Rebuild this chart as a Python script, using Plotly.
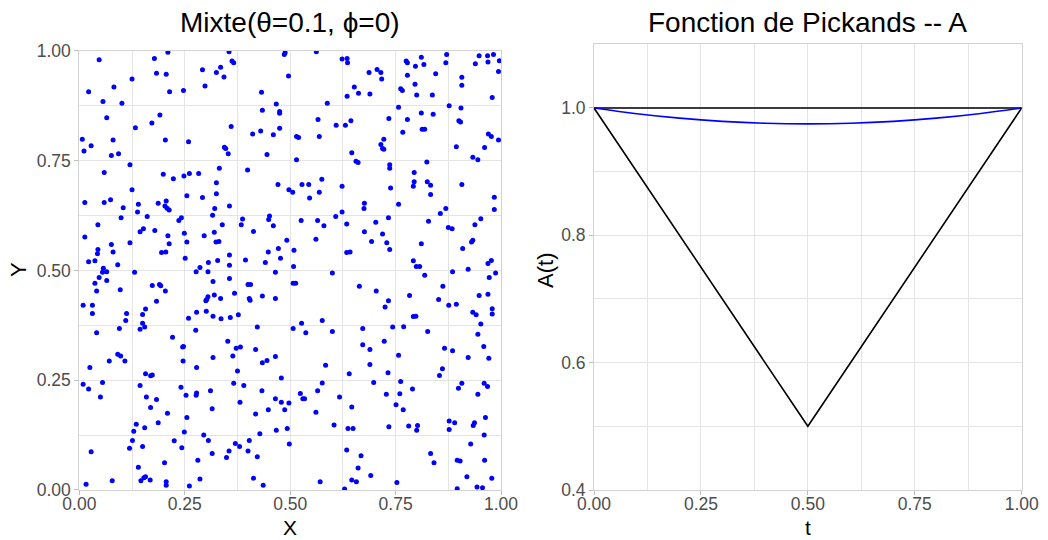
import plotly.graph_objects as go

# ---------------- data : simulated sample ----------------
# upper-left region
x_a = [0.047,0.178,0.210,0.183,0.206,0.125,0.022,0.082,0.056,0.101,0.214,0.247,0.292,0.298,0.065,0.133,0.172,0.191,0.007,0.011,
       0.028,0.080,0.076,0.093,0.204,0.259,0.120,0.059,0.199,0.223,0.248,0.261,0.283,0.125,0.013,0.059,0.074,0.104,0.140,0.138,
       0.187,0.206,0.203,0.208,0.213,0.255,0.292,0.321,0.316,0.099,0.161,0.236,0.242,0.044,0.013,0.144,0.152,0.179,0.210,0.249,
       0.296,0.320,0.120,0.076,0.044,0.043,0.080,0.213,0.255,0.195,0.205,0.251,0.022,0.037,0.091,0.286,0.306]
y_a = [0.980,0.983,0.997,0.949,0.947,0.936,0.907,0.918,0.885,0.881,0.907,0.910,0.957,0.920,0.848,0.825,0.836,0.854,0.799,0.772,
       0.784,0.797,0.762,0.766,0.797,0.793,0.741,0.723,0.719,0.709,0.715,0.721,0.721,0.684,0.655,0.655,0.661,0.643,0.651,0.633,
       0.653,0.658,0.647,0.642,0.638,0.670,0.666,0.641,0.626,0.620,0.623,0.614,0.620,0.604,0.576,0.588,0.595,0.591,0.579,0.585,
       0.579,0.587,0.563,0.559,0.548,0.538,0.542,0.561,0.565,0.541,0.542,0.528,0.520,0.522,0.513,0.507,0.518]
# upper-middle region
x_b = [0.355,0.335,0.325,0.343,0.362,0.366,0.486,0.488,0.496,0.562,0.623,0.635,0.636,0.432,0.467,0.434,0.475,0.475,0.588,0.652,
       0.635,0.360,0.411,0.430,0.460,0.475,0.515,0.520,0.566,0.569,0.609,0.631,0.644,0.344,0.347,0.353,0.445,0.515,0.646,0.656,
       0.332,0.399,0.325,0.325,0.471,0.497,0.506,0.528,0.544,0.546,0.569,0.575,0.623,0.356,0.339,0.324,0.331,0.387,0.384,0.413,
       0.451,0.449,0.460,0.526,0.492,0.565,0.580,0.608,0.623,0.634,0.561,0.509,0.472,0.448,0.477,0.634,0.642,0.356,0.328,0.356,
       0.394,0.441,0.508]
y_b = [0.998,0.963,0.951,0.941,0.977,0.973,0.992,0.996,0.943,0.998,0.982,0.983,0.973,0.906,0.879,0.865,0.862,0.858,0.881,0.918,
       0.897,0.828,0.811,0.818,0.809,0.824,0.805,0.803,0.844,0.805,0.831,0.831,0.841,0.781,0.778,0.766,0.764,0.752,0.768,0.749,
       0.733,0.729,0.700,0.675,0.696,0.684,0.678,0.696,0.696,0.665,0.678,0.708,0.692,0.647,0.604,0.565,0.566,0.617,0.604,0.589,
       0.624,0.616,0.602,0.614,0.569,0.614,0.602,0.623,0.633,0.606,0.571,0.546,0.550,0.542,0.528,0.541,0.542,0.535,0.523,0.512,
       0.524,0.518,0.509]
# upper-right region
x_c = [0.687,0.706,0.715,0.717,0.662,0.689,0.775,0.778,0.811,0.797,0.817,0.778,0.845,0.871,0.869,0.796,0.762,0.766,0.800,0.837,
       0.907,0.907,0.939,0.948,0.968,0.982,0.969,0.996,0.994,0.979,0.757,0.734,0.778,0.811,0.839,0.877,0.905,0.900,0.904,0.767,
       0.813,0.819,0.722,0.715,0.719,0.722,0.894,0.970,0.977,0.994,0.961,0.933,0.945,0.661,0.736,0.736,0.824,0.794,0.794,0.792,
       0.825,0.833,0.833,0.907,0.738,0.676,0.675,0.757,0.856,0.869,0.984,0.984,0.733,0.703,0.676,0.719,0.693,0.729,0.736,0.828,
       0.875,0.884,0.938,0.952,0.811,0.930,0.933,0.909,0.792,0.799,0.807,0.969,0.977]
y_c = [0.951,0.958,0.951,0.936,0.904,0.902,0.977,0.973,0.986,0.965,0.969,0.945,0.948,0.992,0.973,0.924,0.914,0.910,0.900,0.900,
       0.940,0.922,0.971,0.989,0.989,0.992,0.975,0.978,0.953,0.894,0.872,0.846,0.844,0.859,0.856,0.875,0.870,0.841,0.838,0.815,
       0.822,0.822,0.799,0.787,0.778,0.776,0.782,0.811,0.805,0.797,0.780,0.758,0.752,0.746,0.741,0.733,0.747,0.723,0.702,0.692,
       0.702,0.694,0.673,0.696,0.688,0.653,0.641,0.651,0.630,0.641,0.667,0.639,0.620,0.610,0.588,0.583,0.566,0.563,0.548,0.612,
       0.598,0.595,0.604,0.618,0.561,0.565,0.569,0.550,0.522,0.509,0.509,0.516,0.523]
# lower-left region
x_d = [0.057,0.065,0.055,0.047,0.037,0.065,0.041,0.131,0.097,0.009,0.031,0.031,0.173,0.190,0.193,0.204,0.183,0.157,0.150,0.112,
       0.110,0.150,0.155,0.144,0.095,0.041,0.277,0.305,0.317,0.305,0.302,0.300,0.320,0.301,0.317,0.278,0.259,0.276,0.221,0.247,
       0.245,0.246,0.091,0.098,0.071,0.108,0.025,0.317,0.278,0.157,0.169,0.173,0.009,0.022,0.055,0.144,0.050,0.159,0.183,0.169,
       0.209,0.241,0.253,0.278,0.277,0.311,0.315,0.255,0.135,0.155,0.129,0.187,0.249,0.126,0.225,0.243,0.150,0.119,0.028,0.295,
       0.306,0.315,0.281,0.202,0.140,0.153,0.157,0.146,0.168,0.078,0.016,0.206,0.206,0.261,0.286]
y_d = [0.505,0.497,0.496,0.484,0.471,0.477,0.453,0.496,0.456,0.421,0.421,0.402,0.466,0.468,0.465,0.453,0.430,0.412,0.400,0.402,
       0.386,0.380,0.371,0.366,0.368,0.358,0.497,0.497,0.475,0.440,0.434,0.431,0.444,0.407,0.396,0.405,0.391,0.364,0.348,0.327,
       0.326,0.294,0.309,0.305,0.294,0.294,0.279,0.302,0.279,0.265,0.260,0.262,0.241,0.230,0.245,0.238,0.212,0.212,0.206,0.188,
       0.175,0.234,0.216,0.221,0.216,0.226,0.185,0.165,0.150,0.142,0.134,0.153,0.132,0.113,0.112,0.096,0.099,0.095,0.087,0.125,
       0.113,0.083,0.068,0.062,0.052,0.028,0.030,0.021,0.023,0.021,0.013,0.019,0.011,0.009,0.025]
# lower-middle region
x_e = [0.465,0.600,0.356,0.400,0.406,0.507,0.513,0.335,0.368,0.403,0.405,0.434,0.465,0.336,0.358,0.377,0.422,0.507,0.527,0.537,
       0.576,0.600,0.352,0.372,0.382,0.364,0.418,0.434,0.445,0.465,0.375,0.479,0.584,0.640,0.366,0.390,0.433,0.381,0.465,0.479,
       0.497,0.487,0.448,0.418,0.524,0.530,0.534,0.565,0.576,0.617,0.561,0.646,0.604,0.637,0.649,0.493,0.467,0.428,0.370,0.380,
       0.403,0.498,0.355,0.400,0.349,0.422,0.634,0.413,0.436,0.571,0.646,0.657,0.629]
y_e = [0.496,0.494,0.482,0.468,0.468,0.471,0.471,0.436,0.448,0.436,0.432,0.442,0.436,0.390,0.393,0.399,0.371,0.368,0.380,0.358,
       0.386,0.361,0.339,0.323,0.326,0.305,0.320,0.290,0.295,0.304,0.271,0.255,0.284,0.265,0.243,0.238,0.226,0.200,0.208,0.200,
       0.198,0.183,0.183,0.173,0.220,0.208,0.208,0.226,0.244,0.212,0.177,0.189,0.148,0.140,0.140,0.140,0.136,0.128,0.106,0.099,
       0.113,0.105,0.089,0.089,0.074,0.076,0.091,0.027,0.011,0.019,0.023,0.019,0.002]
# lower-right region
x_f = [0.885,0.922,0.987,0.972,0.819,0.664,0.704,0.733,0.725,0.783,0.862,0.852,0.876,0.894,0.948,0.969,0.792,0.798,0.933,0.941,
       0.979,0.979,0.952,0.945,0.672,0.743,0.769,0.826,0.672,0.689,0.723,0.757,0.866,0.885,0.922,0.959,0.971,0.689,0.732,0.861,
       0.854,0.698,0.762,0.728,0.760,0.790,0.899,0.907,0.960,0.968,0.945,0.751,0.768,0.734,0.781,0.802,0.800,0.877,0.890,0.877,
       0.937,0.934,0.963,0.960,0.928,0.668,0.661,0.691,0.753,0.833,0.841,0.896,0.903,0.919,0.961,0.978,0.896,0.943,0.956]
y_f = [0.497,0.503,0.494,0.484,0.489,0.464,0.453,0.431,0.417,0.443,0.464,0.434,0.421,0.423,0.443,0.446,0.395,0.396,0.405,0.399,
       0.413,0.401,0.378,0.355,0.368,0.371,0.372,0.361,0.331,0.320,0.339,0.307,0.323,0.317,0.302,0.327,0.300,0.286,0.267,0.276,
       0.261,0.245,0.247,0.218,0.219,0.230,0.232,0.243,0.243,0.236,0.218,0.194,0.183,0.144,0.146,0.147,0.136,0.157,0.153,0.138,
       0.153,0.147,0.165,0.125,0.105,0.078,0.050,0.033,0.017,0.083,0.062,0.068,0.066,0.030,0.068,0.027,0.003,0.007,0.005]

sample_x = x_a + x_b + x_c + x_d + x_e + x_f
sample_y = y_a + y_b + y_c + y_d + y_e + y_f

# ---------------- data : Pickands function ----------------
t_vals = [0.0, 0.1, 0.2, 0.3, 0.4, 0.5, 0.6, 0.7, 0.8, 0.9, 1.0]
A_mixte = [1.000, 0.991, 0.984, 0.979, 0.976, 0.975, 0.976, 0.979, 0.984, 0.991, 1.000]
t_upper = [0.0, 1.0]
A_upper = [1.0, 1.0]
t_lower = [0.0, 0.5, 1.0]
A_lower = [1.0, 0.5, 1.0]

x_ticks = [0, 0.25, 0.5, 0.75, 1.0]
x_minor = [0.125, 0.375, 0.625, 0.875]
y2_ticks = [0.4, 0.6, 0.8, 1.0]
y2_minor = [0.5, 0.7, 0.9, 1.1]

FONT = "Liberation Sans, Arial, sans-serif"
GRID = "#E4E4E4"
LINE = "#D2D2D2"
TICKC = "#4D4D4D"

fig = go.Figure()
fig.add_trace(go.Scatter(x=sample_x, y=sample_y, mode="markers",
                         marker=dict(color="#0000FF", size=5, line=dict(width=0)),
                         xaxis="x", yaxis="y"))
fig.add_trace(go.Scatter(x=t_upper, y=A_upper, mode="lines",
                         line=dict(color="black", width=1.6), xaxis="x2", yaxis="y2"))
fig.add_trace(go.Scatter(x=t_vals, y=A_mixte, mode="lines", line_shape="spline",
                         line=dict(color="#0000FF", width=1.6), xaxis="x2", yaxis="y2"))
fig.add_trace(go.Scatter(x=t_lower, y=A_lower, mode="lines",
                         line=dict(color="black", width=1.6), xaxis="x2", yaxis="y2"))

def axis_style(domain, rng, ticks, minor, fmt, anchor, standoff=0):
    return dict(domain=domain, range=rng, tickvals=ticks, tickformat=fmt,
                automargin=False, ticklabelstandoff=standoff,
                showgrid=True, gridcolor=GRID, gridwidth=1,
                minor=dict(tickvals=minor, showgrid=True, gridcolor=GRID, gridwidth=1, ticklen=0),
                ticks="outside", ticklen=4, tickcolor="#BDBDBD", tickwidth=1,
                showline=True, linecolor=LINE, linewidth=1, mirror=True,
                zeroline=False, anchor=anchor, fixedrange=True,
                tickfont=dict(family=FONT, size=17.5, color=TICKC))

fig.update_layout(
    width=1048, height=540,
    margin=dict(l=0, r=0, t=0, b=0, autoexpand=False),
    paper_bgcolor="white", plot_bgcolor="white",
    showlegend=False,
    font=dict(family=FONT, color="black"),
    xaxis=axis_style([0.0757, 0.4781], [0, 1], x_ticks, x_minor, ".2f", "y", -6),
    yaxis=axis_style([0.0926, 0.9056], [0, 1], x_ticks, x_minor, ".2f", "x"),
    xaxis2=axis_style([0.5668, 0.9749], [0, 1], x_ticks, x_minor, ".2f", "y2", -6),
    yaxis2=axis_style([0.0926, 0.918], [0.4, 1.1], y2_ticks, y2_minor, ".1f", "x2"),
    annotations=[
        dict(text="Mixte(\u03b8=0.1, \u03d5=0)", x=0.2769, y=0.959, xref="paper", yref="paper",
             xanchor="center", yanchor="middle", showarrow=False, font=dict(size=28, color="black")),
        dict(text="Fonction de Pickands -- A", x=0.7709, y=0.959, xref="paper", yref="paper",
             xanchor="center", yanchor="middle", showarrow=False, font=dict(size=28, color="black")),
        dict(text="X", x=0.2769, y=0.0, xref="paper", yref="paper", yshift=0, borderpad=0,
             xanchor="center", yanchor="bottom", showarrow=False, font=dict(size=21, color="black")),
        dict(text="t", x=0.7709, y=0.0, xref="paper", yref="paper", yshift=0, borderpad=0,
             xanchor="center", yanchor="bottom", showarrow=False, font=dict(size=21, color="black")),
        dict(text="Y", x=0.0172, y=0.50, xref="paper", yref="paper", textangle=-90,
             xanchor="center", yanchor="middle", showarrow=False, font=dict(size=22, color="black")),
        dict(text="A(t)", x=0.520, y=0.50, xref="paper", yref="paper", textangle=-90,
             xanchor="center", yanchor="middle", showarrow=False, font=dict(size=22, color="black")),
    ],
)

fig.write_html("out.html", config={"displayModeBar": False},
               post_script="document.body.style.margin='0';document.body.style.overflow='hidden';")
